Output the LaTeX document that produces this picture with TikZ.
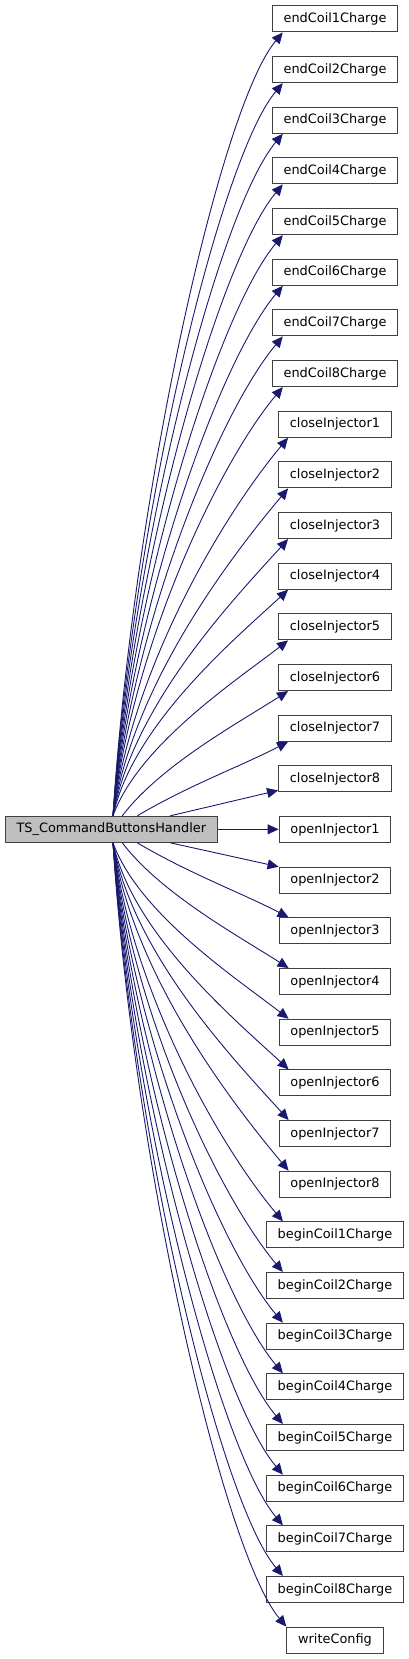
\documentclass[tikz,border=0pt]{standalone}
\usepackage{fontspec}
\setmainfont{DejaVu Sans}
\usetikzlibrary{arrows.meta,calc}
\definecolor{edgeblue}{HTML}{191970}
\definecolor{boxgray}{HTML}{BFBFBF}
\begin{document}
\begin{tikzpicture}[x=1pt,y=-1pt,
  box/.style={draw=black!75,line width=1pt,fill=white,minimum height=26pt,
    inner xsep=11.3pt,inner ysep=0pt,font=\fontsize{12.9}{15}\selectfont},
  edge/.style={draw=edgeblue,line width=0.9pt,-{Triangle[length=11pt,width=10pt]}}]
\useasboundingbox (0,0) rectangle (409,1659);
\node[box,fill=boxgray] (main) at (111.3,829.3) {TS\_CommandButtonsHandler};
\foreach \n/\t/\i in {e1/endCoil1Charge/0,e2/endCoil2Charge/1,e3/endCoil3Charge/2,
  e4/endCoil4Charge/3,e5/endCoil5Charge/4,e6/endCoil6Charge/5,e7/endCoil7Charge/6,
  e8/endCoil8Charge/7,c1/closeInjector1/8,c2/closeInjector2/9,c3/closeInjector3/10,
  c4/closeInjector4/11,c5/closeInjector5/12,c6/closeInjector6/13,c7/closeInjector7/14,
  c8/closeInjector8/15,o1/openInjector1/16,o2/openInjector2/17,o3/openInjector3/18,
  o4/openInjector4/19,o5/openInjector5/20,o6/openInjector6/21,o7/openInjector7/22,
  o8/openInjector8/23,b1/beginCoil1Charge/24,b2/beginCoil2Charge/25,b3/beginCoil3Charge/26,
  b4/beginCoil4Charge/27,b5/beginCoil5Charge/28,b6/beginCoil6Charge/29,b7/beginCoil7Charge/30,
  b8/beginCoil8Charge/31,w/writeConfig/32}
  {\node[box] (\n) at (335,{19+50.66*\i}) {\t};}
% edges going up
\foreach \n/\i/\dx/\tx in {e1/0/1.7/11,e2/1/1.7/11,e3/2/1.7/11,e4/3/1.7/11,e5/4/1.7/11,
  e6/5/1.7/11,e7/6/1.7/11,e8/7/1.7/11,c1/8/1.7/10,c2/9/1.7/10,c3/10/1.7/10,c4/11/1.7/10,
  c5/12/1.7/10,c6/13/11/10,c7/14/26/10}{
  \pgfmathsetmacro\V{785-50.66*\i}
  \pgfmathsetmacro\tht{20+30*min(1,\V/300)}
  \pgfmathsetmacro\aL{min(99,0.15*\V+40)}
  \pgfmathsetmacro\cxx{\dx+20+50*(1-min(1,\V/200))}
  \pgfmathsetmacro\cyy{-0.4*\V}
  \pgfmathsetmacro\exx{\tx-\aL*cos(\tht)}
  \pgfmathsetmacro\eyy{\aL*sin(\tht)}
  \draw[edge] ([xshift=\dx pt]main.north) .. controls ($(main.north)+(\cxx,\cyy)$)
    and ($(\n.south west)+(\exx,\eyy)$) .. ([xshift=\tx pt]\n.south west);
}
% edges going down
\foreach \n/\i/\dx/\tx in {o3/18/26/10,o4/19/11/10,o5/20/1.7/10,o6/21/1.7/10,o7/22/1.7/10,
  o8/23/1.7/10,b1/24/1.7/17,b2/25/1.7/17,b3/26/1.7/17,b4/27/1.7/17,b5/28/1.7/17,
  b6/29/1.7/17,b7/30/1.7/17,b8/31/1.7/17,w/32/1.7/0}{
  \pgfmathsetmacro\V{50.66*\i-836}
  \pgfmathsetmacro\tht{20+30*min(1,\V/300)}
  \pgfmathsetmacro\aL{min(99,0.15*\V+40)}
  \pgfmathsetmacro\cxx{\dx+20+50*(1-min(1,\V/200))}
  \pgfmathsetmacro\cyy{0.4*\V}
  \pgfmathsetmacro\exx{\tx-\aL*cos(\tht)}
  \pgfmathsetmacro\eyy{-\aL*sin(\tht)}
  \draw[edge] ([xshift=\dx pt]main.south) .. controls ($(main.south)+(\cxx,\cyy)$)
    and ($(\n.north west)+(\exx,\eyy)$) .. ([xshift=\tx pt]\n.north west);
}
\draw[edge] ([xshift=59pt]main.north) -- ([yshift=2pt]c8.south west);
\draw[edge] (main.east) -- (main.east -| o1.west);
\draw[edge] ([xshift=59pt]main.south) -- (o2.north west);
\end{tikzpicture}
\end{document}
